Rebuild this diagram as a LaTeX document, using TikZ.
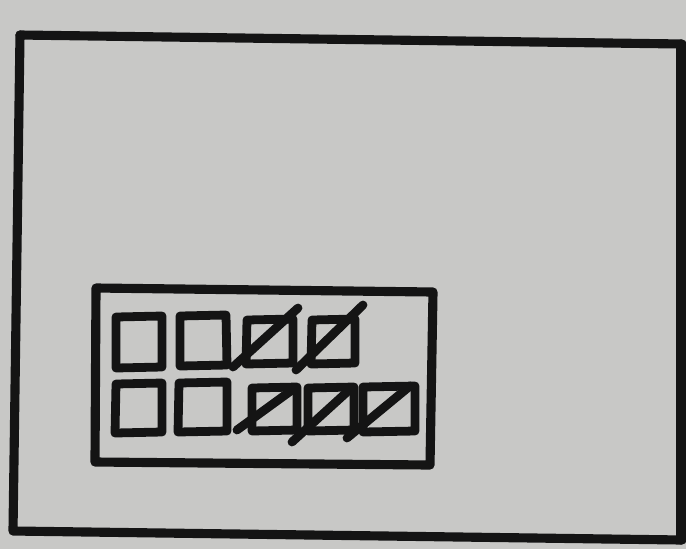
\documentclass[tikz,border=0pt]{standalone}
\usepackage{xcolor}
\usepackage{tikz}
\definecolor{paper}{HTML}{C8C8C6}
\definecolor{ink}{HTML}{141414}

\begin{document}
\begin{tikzpicture}[x=0.02cm,y=-0.02cm,line join=round,line cap=round]
  \tikzset{pen/.style={ink,line width=5.2pt},
           fine/.style={ink,line width=5pt}}
  \fill[paper] (0,0) rectangle (686,549);
  \useasboundingbox (0,0) rectangle (686,549);
  % outer frame
  \draw[pen] (20,35) -- (682,44);
  \draw[pen] (20,35) -- (13,531) -- (682,540);
  \draw[pen] (681,44) -- (681,540);
  % inner box
  \draw[pen] (96,288) -- (433,292) -- (430,465) -- (95,462) -- cycle;
  % top row
  \draw[fine] (116,317) -- (162,316) -- (162,367) -- (116,368) -- cycle;
  \draw[fine] (180,316) -- (226,315) -- (227,365) -- (180,366) -- cycle;
  \draw[fine] (247,320) -- (293,319) -- (293,363) -- (246,364) -- cycle;
  \draw[fine] (312,320) -- (355,319) -- (355,363) -- (311,364) -- cycle;
  \draw[fine] (233,367) -- (298,308);
  \draw[fine] (296,370) -- (363,305);
  % bottom row
  \draw[fine] (116,384) -- (162,383) -- (162,432) -- (115,433) -- cycle;
  \draw[fine] (179,383) -- (227,382) -- (227,431) -- (178,432) -- cycle;
  \draw[fine] (252,388) -- (297,387) -- (297,430) -- (252,431) -- cycle;
  \draw[fine] (308,388) -- (354,387) -- (354,430) -- (308,431) -- cycle;
  \draw[fine] (363,387) -- (415,386) -- (415,431) -- (363,432) -- cycle;
  \draw[fine] (237,430) -- (292,390);
  \draw[fine] (292,442) -- (347,392);
  \draw[fine] (347,438) -- (410,386);
\end{tikzpicture}
\end{document}
